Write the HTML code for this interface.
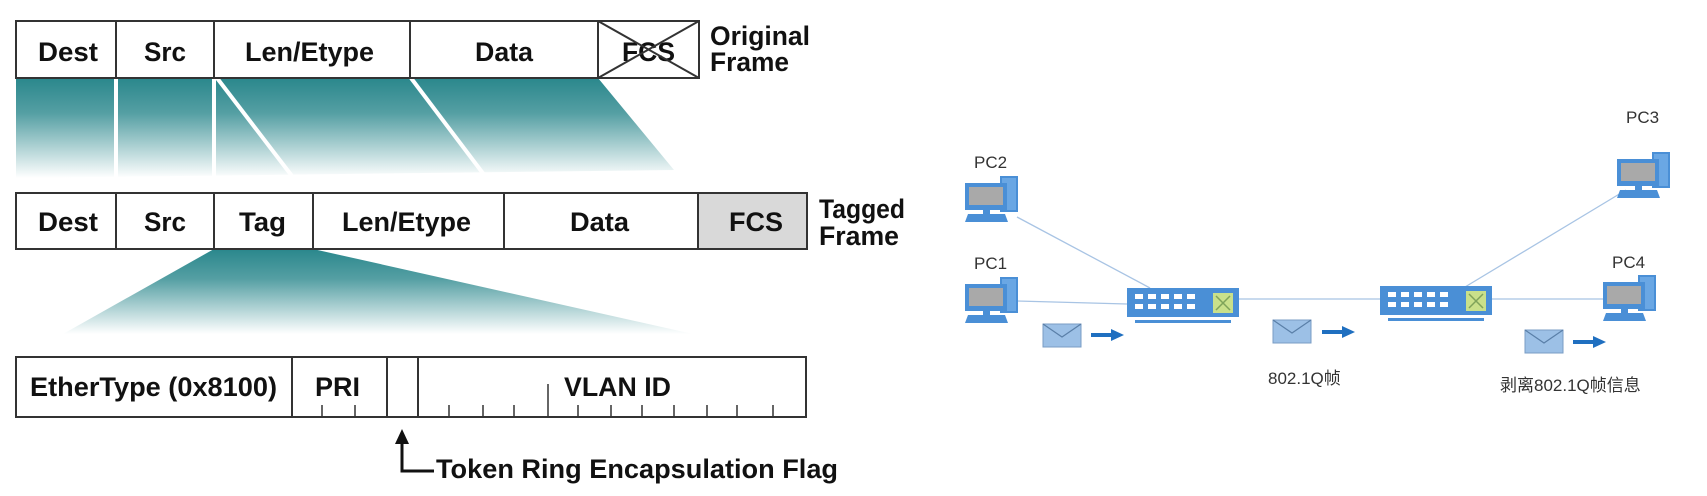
<!DOCTYPE html>
<html><head><meta charset="utf-8"><style>
html,body{margin:0;padding:0;background:#fff;width:1707px;height:496px;overflow:hidden}
svg{display:block}
.b{font-family:"Liberation Sans",sans-serif;font-weight:bold;font-size:27px;fill:#111}
.n{font-family:"Liberation Sans","Noto Sans CJK SC",sans-serif;font-size:17px;fill:#333}
</style></head><body>
<svg width="1707" height="496" viewBox="0 0 1707 496" xmlns="http://www.w3.org/2000/svg">
<defs>
<linearGradient id="g1" x1="0" y1="0" x2="0" y2="1">
<stop offset="0" stop-color="#2a878c"/><stop offset="0.35" stop-color="#2a878c" stop-opacity="0.8"/><stop offset="1" stop-color="#2a878c" stop-opacity="0"/></linearGradient>
<g id="pc">
<rect x="35" y="0" width="18" height="36" fill="#4a8fd6"/>
<rect x="37" y="2" width="14" height="32" fill="#6aa7e4"/>
<rect x="0" y="7" width="42" height="27" fill="#4a8fd6"/>
<rect x="4" y="11" width="34" height="18" fill="#a9a9a9"/>
<rect x="18" y="34" width="7" height="4" fill="#4a8fd6"/>
<polygon points="3,38 40,38 43,46 0,46" fill="#4a8fd6"/>
</g>
<g id="sw">
<rect x="0" y="0" width="112" height="29" fill="#4a8fd6"/>
<g fill="#fff">
<rect x="8" y="6" width="8" height="5"/><rect x="21" y="6" width="8" height="5"/><rect x="34" y="6" width="8" height="5"/><rect x="47" y="6" width="8" height="5"/><rect x="60" y="6" width="8" height="5"/>
<rect x="8" y="16" width="8" height="5"/><rect x="21" y="16" width="8" height="5"/><rect x="34" y="16" width="8" height="5"/><rect x="47" y="16" width="8" height="5"/><rect x="60" y="16" width="8" height="5"/>
</g>
<rect x="86" y="5" width="20" height="20" fill="#c9e08a"/>
<path d="M89,8 L103,22 M103,8 L89,22" stroke="#7fa35a" stroke-width="1.5"/>
<rect x="8" y="32" width="96" height="3" fill="#4a8fd6"/>
</g>
<g id="env">
<rect x="0" y="0" width="38" height="23" fill="#9cc0e6" stroke="#7a9cc4"/>
<path d="M0,0 L19,13 L38,0" fill="none" stroke="#5a7fa8" stroke-width="1.2"/>
</g>
<g id="arr"><path d="M0,0 H22" stroke="#1f6fc0" stroke-width="4"/><polygon points="20,-6 33,0 20,6" fill="#1f6fc0"/></g>
</defs>

<!-- fan 1 -->
<polygon points="16,78 598,78 674,170 16,178" fill="url(#g1)"/>
<g stroke="#fff" stroke-width="4">
<line x1="116" y1="78" x2="116" y2="180"/>
<line x1="214" y1="78" x2="214" y2="180"/>
<line x1="217" y1="78" x2="295" y2="180"/>
<line x1="411" y1="78" x2="488" y2="180"/>
</g>
<!-- original frame -->
<rect x="16" y="21" width="683" height="57" fill="#fff" stroke="#333" stroke-width="2"/>
<g stroke="#333" stroke-width="2">
<line x1="116" y1="21" x2="116" y2="78"/><line x1="214" y1="21" x2="214" y2="78"/>
<line x1="410" y1="21" x2="410" y2="78"/><line x1="598" y1="21" x2="598" y2="78"/>
</g>
<g class="b">
<text x="38" y="61" textLength="60" lengthAdjust="spacingAndGlyphs">Dest</text>
<text x="144" y="61" textLength="42" lengthAdjust="spacingAndGlyphs">Src</text>
<text x="245" y="61" textLength="129" lengthAdjust="spacingAndGlyphs">Len/Etype</text>
<text x="475" y="61" textLength="58" lengthAdjust="spacingAndGlyphs">Data</text>
<text x="622" y="61" textLength="53" lengthAdjust="spacingAndGlyphs">FCS</text>
<text x="710" y="45" textLength="100" lengthAdjust="spacingAndGlyphs">Original</text>
<text x="710" y="71" textLength="79" lengthAdjust="spacingAndGlyphs">Frame</text>
</g>
<g stroke="#333" stroke-width="2">
<line x1="598" y1="21" x2="699" y2="78"/><line x1="699" y1="21" x2="598" y2="78"/>
</g>

<!-- fan 2 -->
<polygon points="214,249 313,249 693,334 63,334" fill="url(#g1)"/>
<!-- tagged frame -->
<rect x="16" y="193" width="791" height="56" fill="#fff" stroke="#333" stroke-width="2"/>
<rect x="698" y="194" width="108" height="54" fill="#d9d9d9"/>
<g stroke="#333" stroke-width="2">
<line x1="116" y1="193" x2="116" y2="249"/><line x1="214" y1="193" x2="214" y2="249"/>
<line x1="313" y1="193" x2="313" y2="249"/><line x1="504" y1="193" x2="504" y2="249"/>
<line x1="698" y1="193" x2="698" y2="249"/>
</g>
<g class="b">
<text x="38" y="231" textLength="60" lengthAdjust="spacingAndGlyphs">Dest</text>
<text x="144" y="231" textLength="42" lengthAdjust="spacingAndGlyphs">Src</text>
<text x="239" y="231" textLength="47" lengthAdjust="spacingAndGlyphs">Tag</text>
<text x="342" y="231" textLength="129" lengthAdjust="spacingAndGlyphs">Len/Etype</text>
<text x="570" y="231" textLength="59" lengthAdjust="spacingAndGlyphs">Data</text>
<text x="729" y="231" textLength="54" lengthAdjust="spacingAndGlyphs">FCS</text>
<text x="819" y="218" textLength="86" lengthAdjust="spacingAndGlyphs">Tagged</text>
<text x="819" y="245" textLength="80" lengthAdjust="spacingAndGlyphs">Frame</text>
</g>

<!-- tag detail -->
<rect x="16" y="357" width="790" height="60" fill="#fff" stroke="#333" stroke-width="2"/>
<g stroke="#333" stroke-width="2">
<line x1="292" y1="357" x2="292" y2="417"/><line x1="387" y1="357" x2="387" y2="417"/><line x1="418" y1="357" x2="418" y2="417"/>
</g>
<g stroke="#333" stroke-width="1.5">
<line x1="322" y1="405" x2="322" y2="417"/><line x1="355" y1="405" x2="355" y2="417"/>
<line x1="449" y1="405" x2="449" y2="417"/><line x1="483" y1="405" x2="483" y2="417"/><line x1="514" y1="405" x2="514" y2="417"/>
<line x1="548" y1="384" x2="548" y2="417"/><line x1="578" y1="405" x2="578" y2="417"/><line x1="611" y1="405" x2="611" y2="417"/>
<line x1="642" y1="405" x2="642" y2="417"/><line x1="674" y1="405" x2="674" y2="417"/><line x1="707" y1="405" x2="707" y2="417"/>
<line x1="737" y1="405" x2="737" y2="417"/><line x1="773" y1="405" x2="773" y2="417"/>
</g>
<g class="b">
<text x="30" y="396" textLength="247" lengthAdjust="spacingAndGlyphs">EtherType (0x8100)</text>
<text x="315" y="396" textLength="45" lengthAdjust="spacingAndGlyphs">PRI</text>
<text x="564" y="396" textLength="107" lengthAdjust="spacingAndGlyphs">VLAN ID</text>
<text x="436" y="478" textLength="402" lengthAdjust="spacingAndGlyphs">Token Ring Encapsulation Flag</text>
</g>
<polygon points="402,429 395,444 409,444" fill="#111"/>
<path d="M402,443 V471 H434" fill="none" stroke="#111" stroke-width="3"/>

<!-- network -->
<g stroke="#a8c4e4" stroke-width="1.3">
<line x1="1017" y1="217" x2="1150" y2="288"/>
<line x1="1017" y1="301" x2="1127" y2="304"/>
<line x1="1238" y1="299" x2="1381" y2="299"/>
<line x1="1465" y1="287" x2="1626" y2="190"/>
<line x1="1491" y1="299" x2="1603" y2="299"/>
</g>
<use href="#pc" x="965" y="176"/>
<use href="#pc" x="965" y="277"/>
<use href="#pc" x="1617" y="152"/>
<use href="#pc" x="1603" y="275"/>
<use href="#sw" x="1127" y="288"/>
<use href="#sw" x="1380" y="286"/>
<use href="#env" x="1043" y="324"/><use href="#arr" x="1091" y="335"/>
<use href="#env" x="1273" y="320"/><use href="#arr" x="1322" y="332"/>
<use href="#env" x="1525" y="330"/><use href="#arr" x="1573" y="342"/>
<g class="n">
<text x="974" y="168">PC2</text>
<text x="974" y="269">PC1</text>
<text x="1626" y="123">PC3</text>
<text x="1612" y="268">PC4</text>
<text x="1268" y="384">802.1Q帧</text>
<text x="1500" y="391">剥离802.1Q帧信息</text>
</g>
</svg>
</body></html>
